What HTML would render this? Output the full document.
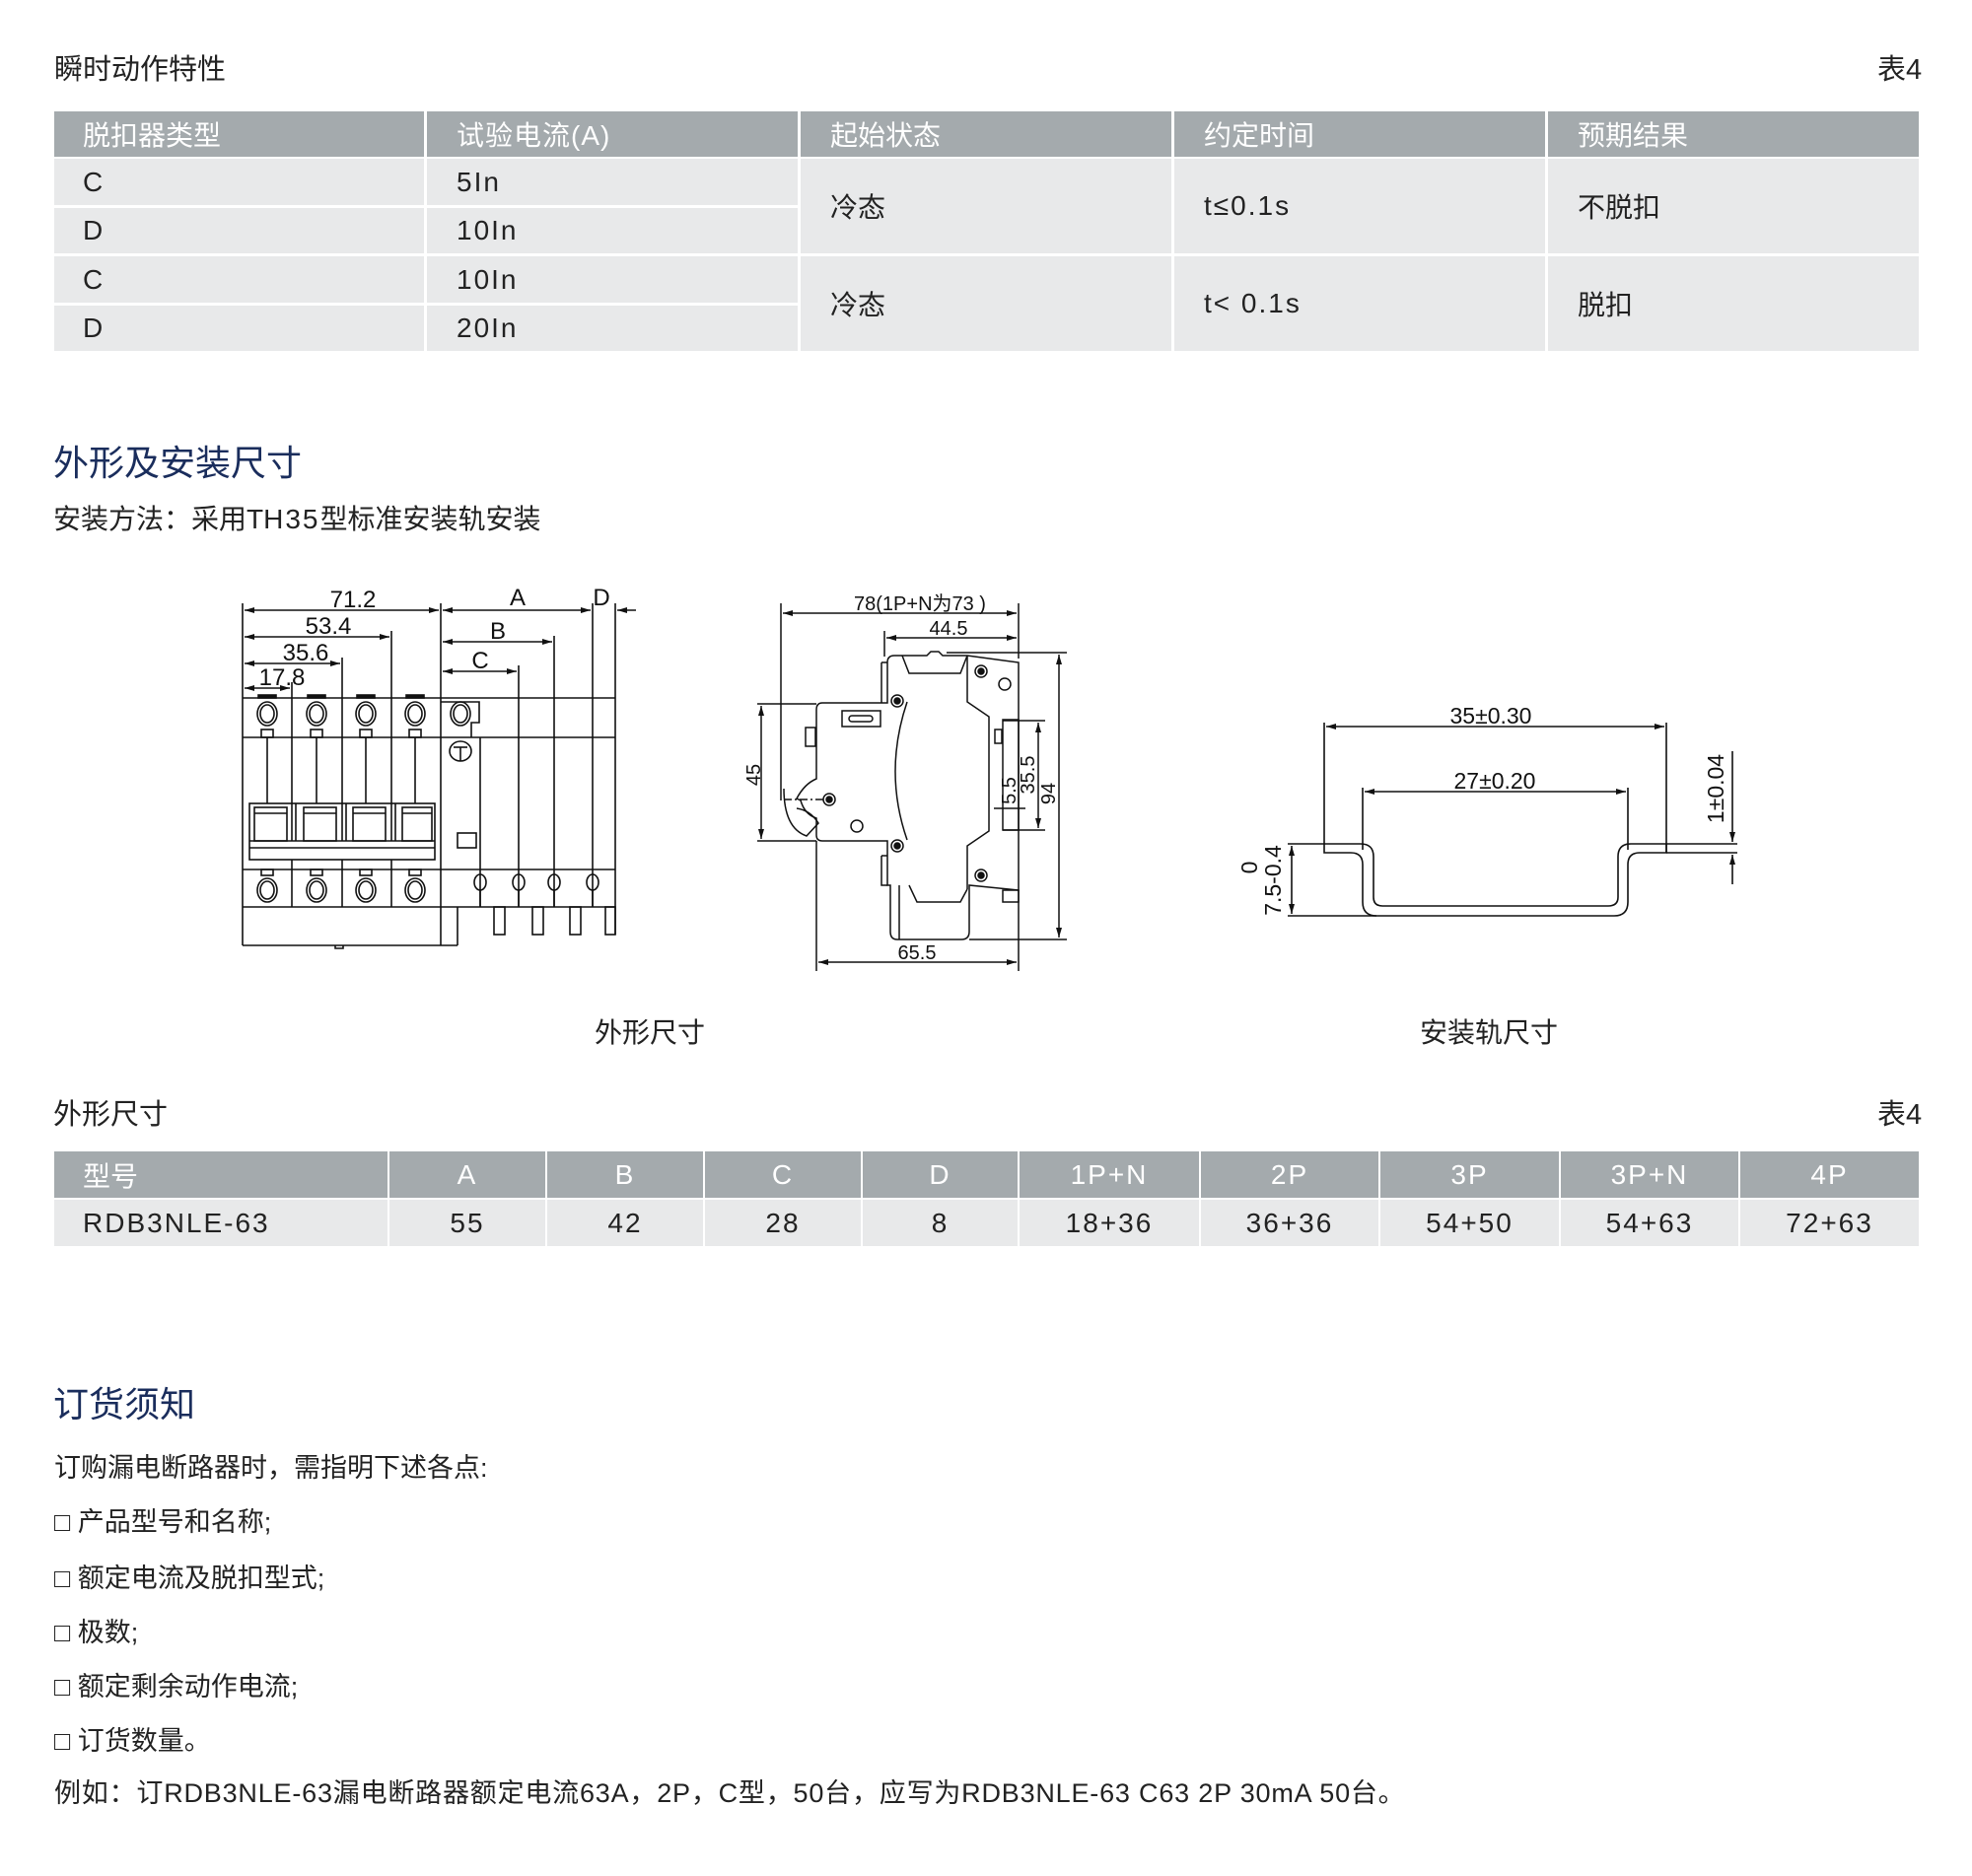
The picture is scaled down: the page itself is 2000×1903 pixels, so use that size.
<!DOCTYPE html>
<html><head><meta charset="utf-8">
<style>
*{margin:0;padding:0;box-sizing:border-box}
body{width:2000px;height:1903px;background:#fff;position:relative;overflow:hidden;font-family:"Liberation Sans","Noto Sans CJK SC",sans-serif;color:#222}
.a{position:absolute;white-space:nowrap;line-height:1}
.c{position:absolute;display:flex;align-items:center;font-size:28px;white-space:nowrap;letter-spacing:2px}
.h{background:#a4aaad;color:#fff}
.b{background:#e8e9ea;color:#222}
.t{color:#1a2d5c;font-size:36px}
</style></head><body>

<div class="a" style="left:55px;top:57px;font-size:29px">瞬时动作特性</div>
<div class="a" style="left:1904px;top:57px;font-size:29px">表4</div>

<!-- table 1 -->
<div class="c h" style="left:55px;top:113px;width:375px;height:46px;padding-left:29px;letter-spacing:0">脱扣器类型</div>
<div class="c h" style="left:433px;top:113px;width:376px;height:46px;padding-left:30px;letter-spacing:1px">试验电流(A)</div>
<div class="c h" style="left:812px;top:113px;width:376px;height:46px;padding-left:30px;letter-spacing:0">起始状态</div>
<div class="c h" style="left:1191px;top:113px;width:376px;height:46px;padding-left:30px;letter-spacing:0">约定时间</div>
<div class="c h" style="left:1570px;top:113px;width:376px;height:46px;padding-left:30px;letter-spacing:0">预期结果</div>

<div class="c b" style="left:55px;top:161px;width:375px;height:47px;padding-left:29px">C</div>
<div class="c b" style="left:433px;top:161px;width:376px;height:47px;padding-left:30px">5In</div>
<div class="c b" style="left:55px;top:211px;width:375px;height:46px;padding-left:29px">D</div>
<div class="c b" style="left:433px;top:211px;width:376px;height:46px;padding-left:30px">10In</div>
<div class="c b" style="left:812px;top:161px;width:376px;height:96px;padding-left:30px;letter-spacing:0">冷态</div>
<div class="c b" style="left:1191px;top:161px;width:376px;height:96px;padding-left:30px">t≤0.1s</div>
<div class="c b" style="left:1570px;top:161px;width:376px;height:96px;padding-left:30px;letter-spacing:0">不脱扣</div>

<div class="c b" style="left:55px;top:260px;width:375px;height:47px;padding-left:29px">C</div>
<div class="c b" style="left:433px;top:260px;width:376px;height:47px;padding-left:30px">10In</div>
<div class="c b" style="left:55px;top:310px;width:375px;height:46px;padding-left:29px">D</div>
<div class="c b" style="left:433px;top:310px;width:376px;height:46px;padding-left:30px">20In</div>
<div class="c b" style="left:812px;top:260px;width:376px;height:96px;padding-left:30px;letter-spacing:0">冷态</div>
<div class="c b" style="left:1191px;top:260px;width:376px;height:96px;padding-left:30px">t&lt; 0.1s</div>
<div class="c b" style="left:1570px;top:260px;width:376px;height:96px;padding-left:30px;letter-spacing:0">脱扣</div>

<div class="a t" style="left:54px;top:452px">外形及安装尺寸</div>
<div class="a" style="left:54px;top:513px;font-size:28px">安装方法：采用T<span style="letter-spacing:2px">H35</span>型标准安装轨安装</div>

<svg width="2000" height="1903" style="position:absolute;left:0;top:0" xmlns="http://www.w3.org/2000/svg">
<defs>
<marker id="ar" viewBox="0 0 10 6" refX="10" refY="3" markerWidth="10" markerHeight="6" markerUnits="userSpaceOnUse" orient="auto-start-reverse"><path d="M0,0 L10,3 L0,6 z" fill="#111"/></marker>
</defs>
<g stroke="#111" stroke-width="1.6" fill="none" font-family="Liberation Sans,sans-serif">
<line x1="246" y1="612" x2="246" y2="959"/>
<line x1="447" y1="612" x2="447" y2="708"/>
<line x1="601" y1="612" x2="601" y2="708"/>
<line x1="624" y1="612" x2="624" y2="708"/>
<line x1="248" y1="619" x2="445" y2="619" marker-start="url(#ar)" marker-end="url(#ar)"/>
<line x1="449" y1="619" x2="599" y2="619" marker-start="url(#ar)" marker-end="url(#ar)"/>
<line x1="645" y1="619" x2="626" y2="619" marker-end="url(#ar)"/>
<line x1="397" y1="640" x2="397" y2="708"/>
<line x1="248" y1="646" x2="395" y2="646" marker-start="url(#ar)" marker-end="url(#ar)"/>
<line x1="347" y1="667" x2="347" y2="708"/>
<line x1="248" y1="673" x2="345" y2="673" marker-start="url(#ar)" marker-end="url(#ar)"/>
<line x1="296" y1="692" x2="296" y2="708"/>
<line x1="248" y1="698" x2="294" y2="698" marker-start="url(#ar)" marker-end="url(#ar)"/>
<line x1="562" y1="645" x2="562" y2="920"/>
<line x1="449" y1="651" x2="560" y2="651" marker-start="url(#ar)" marker-end="url(#ar)"/>
<line x1="526" y1="675" x2="526" y2="920"/>
<line x1="449" y1="681" x2="524" y2="681" marker-start="url(#ar)" marker-end="url(#ar)"/>
<line x1="246" y1="708" x2="624" y2="708"/>
<line x1="246" y1="748" x2="624" y2="748"/>
<line x1="246" y1="882" x2="624" y2="882"/>
<line x1="246" y1="920" x2="624" y2="920"/>
<line x1="246" y1="959" x2="464" y2="959"/>
<line x1="447" y1="708" x2="447" y2="959"/>
<line x1="464" y1="920" x2="464" y2="959"/>
<line x1="601" y1="708" x2="601" y2="920"/>
<line x1="624" y1="708" x2="624" y2="948"/>
<line x1="296" y1="708" x2="296" y2="815"/><line x1="347" y1="708" x2="347" y2="815"/><line x1="397" y1="708" x2="397" y2="815"/>
<line x1="296" y1="872" x2="296" y2="920"/><line x1="347" y1="872" x2="347" y2="920"/><line x1="397" y1="872" x2="397" y2="920"/>
<path d="M447,712 H486 V733 H478 V748"/>
<line x1="487" y1="748" x2="487" y2="920"/>
<ellipse cx="467" cy="724" rx="10" ry="12"/><ellipse cx="467" cy="724" rx="7" ry="9"/>
<ellipse cx="467" cy="762" rx="11" ry="10"/><line x1="460" y1="758" x2="474" y2="758"/><line x1="467" y1="758" x2="467" y2="772"/>
<rect x="464" y="845" width="19" height="15"/>
<g>
<ellipse cx="271" cy="724" rx="10" ry="12"/><ellipse cx="271" cy="724" rx="7" ry="9"/>
<ellipse cx="321" cy="724" rx="10" ry="12"/><ellipse cx="321" cy="724" rx="7" ry="9"/>
<ellipse cx="371" cy="724" rx="10" ry="12"/><ellipse cx="371" cy="724" rx="7" ry="9"/>
<ellipse cx="421" cy="724" rx="10" ry="12"/><ellipse cx="421" cy="724" rx="7" ry="9"/>
<rect x="265" y="740" width="12" height="8"/><rect x="315" y="740" width="12" height="8"/><rect x="365" y="740" width="12" height="8"/><rect x="415" y="740" width="12" height="8"/>
<rect x="262" y="705" width="18" height="3" fill="#111"/><rect x="312" y="705" width="18" height="3" fill="#111"/><rect x="362" y="705" width="18" height="3" fill="#111"/><rect x="412" y="705" width="18" height="3" fill="#111"/>
<line x1="271" y1="748" x2="271" y2="815"/><line x1="321" y1="748" x2="321" y2="815"/><line x1="371" y1="748" x2="371" y2="815"/><line x1="421" y1="748" x2="421" y2="815"/>
<ellipse cx="271" cy="903" rx="10" ry="12"/><ellipse cx="271" cy="903" rx="7" ry="9"/>
<ellipse cx="321" cy="903" rx="10" ry="12"/><ellipse cx="321" cy="903" rx="7" ry="9"/>
<ellipse cx="371" cy="903" rx="10" ry="12"/><ellipse cx="371" cy="903" rx="7" ry="9"/>
<ellipse cx="421" cy="903" rx="10" ry="12"/><ellipse cx="421" cy="903" rx="7" ry="9"/>
<rect x="265" y="882" width="12" height="6"/><rect x="315" y="882" width="12" height="6"/><rect x="365" y="882" width="12" height="6"/><rect x="415" y="882" width="12" height="6"/>
</g>
<rect x="253" y="815" width="188" height="57"/>
<line x1="253" y1="853" x2="441" y2="853"/><line x1="253" y1="860" x2="441" y2="860"/>
<rect x="258" y="819" width="33" height="34"/><rect x="308" y="819" width="33" height="34"/><rect x="358" y="819" width="33" height="34"/><rect x="408" y="819" width="30" height="34"/>
<line x1="258" y1="825" x2="291" y2="825"/><line x1="308" y1="825" x2="341" y2="825"/><line x1="358" y1="825" x2="391" y2="825"/><line x1="408" y1="825" x2="438" y2="825"/>
<line x1="296" y1="815" x2="296" y2="853"/><line x1="300" y1="815" x2="300" y2="853"/><line x1="347" y1="815" x2="347" y2="853"/><line x1="351" y1="815" x2="351" y2="853"/><line x1="397" y1="815" x2="397" y2="853"/><line x1="401" y1="815" x2="401" y2="853"/>
<ellipse cx="487" cy="895" rx="6" ry="8"/><ellipse cx="526" cy="895" rx="6" ry="8"/><ellipse cx="562" cy="895" rx="6" ry="8"/><ellipse cx="601" cy="895" rx="6" ry="8"/>
<line x1="487" y1="903" x2="487" y2="920"/><line x1="526" y1="903" x2="526" y2="920"/><line x1="562" y1="903" x2="562" y2="920"/><line x1="601" y1="903" x2="601" y2="920"/>
<rect x="501" y="920" width="11" height="28"/><rect x="540" y="920" width="11" height="28"/><rect x="578" y="920" width="11" height="28"/><rect x="614" y="920" width="10" height="28"/>
<path d="M340,959 v3 h8 v-3"/>
</g>
<g font-family="Liberation Sans,sans-serif" font-size="24" fill="#111" text-anchor="middle">
<text x="358" y="616">71.2</text><text x="333" y="643">53.4</text><text x="310" y="670">35.6</text><text x="286" y="695">17.8</text>
<text x="525" y="614">A</text><text x="610" y="614">D</text><text x="505" y="648">B</text><text x="487" y="678">C</text>
</g>

<g stroke="#111" stroke-width="1.5" fill="none">
<line x1="792" y1="612" x2="792" y2="812"/>
<line x1="1033" y1="612" x2="1033" y2="668"/>
<line x1="794" y1="622" x2="1031" y2="622" marker-start="url(#ar)" marker-end="url(#ar)"/>
<line x1="897" y1="640" x2="897" y2="666"/>
<line x1="899" y1="647" x2="1031" y2="647" marker-start="url(#ar)" marker-end="url(#ar)"/>
<line x1="960" y1="662" x2="1082" y2="662"/>
<line x1="983" y1="953" x2="1082" y2="953"/>
<line x1="1074" y1="664" x2="1074" y2="951" marker-start="url(#ar)" marker-end="url(#ar)"/>
<line x1="768" y1="714" x2="828" y2="714"/>
<line x1="768" y1="853" x2="828" y2="853"/>
<line x1="772" y1="716" x2="772" y2="851" marker-start="url(#ar)" marker-end="url(#ar)"/>
<line x1="828" y1="853" x2="828" y2="985"/>
<line x1="1033" y1="903" x2="1033" y2="985"/>
<line x1="830" y1="976" x2="1031" y2="976" marker-start="url(#ar)" marker-end="url(#ar)"/>
<line x1="1017" y1="731" x2="1060" y2="731"/>
<line x1="1017" y1="842" x2="1060" y2="842"/>
<line x1="1053" y1="733" x2="1053" y2="840" marker-start="url(#ar)" marker-end="url(#ar)"/>
<line x1="1008" y1="820" x2="1040" y2="820"/>
<path d="M900,713 V672 Q900,665 907,665 H940 L944,661 H952 L956,665 H981 L1033,672 V903 L983,898 V945 Q983,953 975,953 H910 Q903,953 903,945 V898 H900 V853 H834 Q828,853 828,847 V830 Q816,826 812,812 L808,810 Q816,795 828,790 V720 Q828,713 834,713 Z"/>
<path d="M894,672 H900 M894,672 V713 M894,868 V898 H900 M894,868 H900"/>
<path d="M981,665 V712 L1003,727 V843 L981,858 V902"/>
<path d="M920,712 Q896,783 920,852"/>
<path d="M915,665 L922,683 H974 L981,665"/>
<path d="M922,898 L930,915 H974 L981,902"/>
<line x1="912" y1="898" x2="912" y2="953"/>
<rect x="1017" y="730" width="16" height="112"/>
<rect x="1009" y="740" width="7" height="14"/>
<rect x="1017" y="903" width="16" height="12"/>
<rect x="854" y="721" width="39" height="16"/>
<path d="M864,726 h18 a3,3 0 0 1 0,6 h-18 a3,3 0 0 1 0,-6z"/>
<rect x="817" y="738" width="10" height="19"/>
<path d="M795,800 Q795,840 818,848 L830,835 Q822,822 808,820"/>
<line x1="795" y1="811" x2="835" y2="811" stroke-dasharray="8,3,2,3"/>
<circle cx="910" cy="711" r="6"/><circle cx="910" cy="711" r="3" fill="#111"/>
<circle cx="995" cy="681" r="6"/><circle cx="995" cy="681" r="3" fill="#111"/>
<circle cx="910" cy="858" r="6"/><circle cx="910" cy="858" r="3" fill="#111"/>
<circle cx="995" cy="888" r="6"/><circle cx="995" cy="888" r="3" fill="#111"/>
<circle cx="841" cy="811" r="6"/><circle cx="841" cy="811" r="3" fill="#111"/>
<circle cx="1019" cy="694" r="6"/><circle cx="869" cy="838" r="6"/>
</g>
<g font-family="Liberation Sans,sans-serif" font-size="20" fill="#111" text-anchor="middle">
<text x="933" y="619">78(1P+N为73 )</text>
<text x="962" y="644">44.5</text>
<text x="930" y="973">65.5</text>
<text transform="translate(771,786) rotate(-90)">45</text>
<text transform="translate(1030,802) rotate(-90)">5.5</text>
<text transform="translate(1049,786) rotate(-90)">35.5</text>
<text transform="translate(1070,805) rotate(-90)">94</text>
</g>

<g stroke="#111" stroke-width="1.6" fill="none">
<line x1="1343" y1="733" x2="1343" y2="856"/>
<line x1="1690" y1="733" x2="1690" y2="865"/>
<line x1="1345" y1="737" x2="1688" y2="737" marker-start="url(#ar)" marker-end="url(#ar)"/>
<line x1="1382" y1="799" x2="1382" y2="862"/>
<line x1="1651" y1="799" x2="1651" y2="862"/>
<line x1="1384" y1="803" x2="1649" y2="803" marker-start="url(#ar)" marker-end="url(#ar)"/>
<path d="M1343,856 V865 H1370 Q1382,865 1382,877 V915 Q1382,929 1396,929 H1637 Q1651,929 1651,915 V877 Q1651,865 1663,865 H1690 V856"/>
<path d="M1343,856 H1380 Q1393,856 1393,869 V910 Q1393,919 1402,919 H1631 Q1641,919 1641,910 V869 Q1641,856 1654,856 H1690"/>
<line x1="1690" y1="856" x2="1762" y2="856"/>
<line x1="1690" y1="865" x2="1762" y2="865"/>
<line x1="1306" y1="856" x2="1343" y2="856"/>
<line x1="1306" y1="929" x2="1396" y2="929"/>
<line x1="1310" y1="858" x2="1310" y2="927" marker-start="url(#ar)" marker-end="url(#ar)"/>
<line x1="1757" y1="762" x2="1757" y2="854" marker-end="url(#ar)"/>
<line x1="1757" y1="897" x2="1757" y2="867" marker-end="url(#ar)"/>
</g>
<g font-family="Liberation Sans,sans-serif" font-size="23" fill="#111" text-anchor="middle">
<text x="1512" y="734">35±0.30</text>
<text x="1516" y="800">27±0.20</text>
<text transform="translate(1275,880) rotate(-90)">0</text>
<text transform="translate(1299,893) rotate(-90)">7.5-0.4</text>
<text transform="translate(1748,800) rotate(-90)">1±0.04</text>
</g>
</svg>

<div class="a" style="left:603px;top:1034px;font-size:28px">外形尺寸</div>
<div class="a" style="left:1440px;top:1034px;font-size:28px">安装轨尺寸</div>

<div class="a" style="left:54px;top:1117px;font-size:29px">外形尺寸</div>
<div class="a" style="left:1904px;top:1117px;font-size:29px">表4</div>

<div class="c h" style="left:55px;top:1168px;width:338px;height:47px;padding-left:29px;letter-spacing:0">型号</div>
<div class="c h" style="left:395px;top:1168px;width:158px;height:47px;justify-content:center">A</div>
<div class="c h" style="left:555px;top:1168px;width:158px;height:47px;justify-content:center">B</div>
<div class="c h" style="left:715px;top:1168px;width:158px;height:47px;justify-content:center">C</div>
<div class="c h" style="left:875px;top:1168px;width:157px;height:47px;justify-content:center">D</div>
<div class="c h" style="left:1034px;top:1168px;width:182px;height:47px;justify-content:center">1P+N</div>
<div class="c h" style="left:1218px;top:1168px;width:180px;height:47px;justify-content:center">2P</div>
<div class="c h" style="left:1400px;top:1168px;width:181px;height:47px;justify-content:center">3P</div>
<div class="c h" style="left:1583px;top:1168px;width:180px;height:47px;justify-content:center">3P+N</div>
<div class="c h" style="left:1765px;top:1168px;width:181px;height:47px;justify-content:center">4P</div>

<div class="c b" style="left:55px;top:1217px;width:338px;height:47px;padding-left:29px">RDB3NLE-63</div>
<div class="c b" style="left:395px;top:1217px;width:158px;height:47px;justify-content:center">55</div>
<div class="c b" style="left:555px;top:1217px;width:158px;height:47px;justify-content:center">42</div>
<div class="c b" style="left:715px;top:1217px;width:158px;height:47px;justify-content:center">28</div>
<div class="c b" style="left:875px;top:1217px;width:157px;height:47px;justify-content:center">8</div>
<div class="c b" style="left:1034px;top:1217px;width:182px;height:47px;justify-content:center">18+36</div>
<div class="c b" style="left:1218px;top:1217px;width:180px;height:47px;justify-content:center">36+36</div>
<div class="c b" style="left:1400px;top:1217px;width:181px;height:47px;justify-content:center">54+50</div>
<div class="c b" style="left:1583px;top:1217px;width:180px;height:47px;justify-content:center">54+63</div>
<div class="c b" style="left:1765px;top:1217px;width:181px;height:47px;justify-content:center">72+63</div>

<div class="a t" style="left:54px;top:1407px">订货须知</div>
<div class="a" style="left:55px;top:1476px;font-size:27px">订购漏电断路器时，需指明下述各点:</div>
<div class="a" style="left:55px;top:1531px;font-size:27px">□ 产品型号和名称;</div>
<div class="a" style="left:55px;top:1588px;font-size:27px">□ 额定电流及脱扣型式;</div>
<div class="a" style="left:55px;top:1643px;font-size:27px">□ 极数;</div>
<div class="a" style="left:55px;top:1698px;font-size:27px">□ 额定剩余动作电流;</div>
<div class="a" style="left:55px;top:1753px;font-size:27px">□ 订货数量。</div>
<div class="a" style="left:55px;top:1806px;font-size:27px;letter-spacing:0.8px">例如：订RDB3NLE-63漏电断路器额定电流63A，2P，C型，50台，应写为RDB3NLE-63 C63 2P 30mA 50台。</div>
</body></html>
